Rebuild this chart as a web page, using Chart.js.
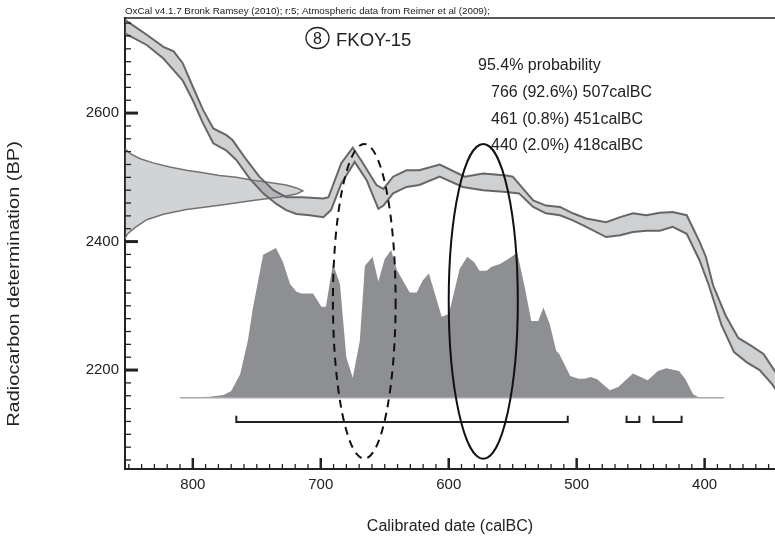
<!DOCTYPE html>
<html>
<head>
<meta charset="utf-8">
<script src="https://cdn.jsdelivr.net/npm/chart.js@4.4.0/dist/chart.umd.min.js"></script>
<style>
  html, body { margin: 0; padding: 0; background: #fff; }
  #wrap { width: 775px; height: 539px; }
</style>
</head>
<body>
<div id="wrap"><canvas id="chart" width="775" height="539"></canvas></div>
<script>
var X_TICKS = [800, 700, 600, 500, 400];
var Y_TICKS = [2600, 2400, 2200];

// calibration curve band (calBC / BP), upper and lower edge
var curveUpperYear = [853, 836, 823, 815, 808, 800, 792, 784, 774, 769, 758, 748, 737, 727, 714, 698, 694, 684, 675, 667, 656.5, 651, 643.5, 633, 623, 607, 587.5, 573, 555, 550, 534, 524, 513, 503, 492.5, 477, 466, 456, 445.5, 435, 425, 414, 404, 399, 393.4, 383.6, 373.7, 363.8, 354, 344];
var curveUpperBP = [2745, 2722, 2703, 2696, 2678, 2641, 2605, 2576, 2566, 2558, 2527, 2501, 2480, 2469, 2469, 2467, 2469, 2522, 2546, 2522, 2488, 2482, 2501, 2511, 2511, 2520, 2501, 2506, 2503, 2501, 2464, 2456, 2454, 2444, 2436, 2430, 2438, 2444, 2441, 2445, 2446, 2441, 2400, 2376, 2332, 2285, 2250, 2238, 2225, 2195];
var curveLowerYear = [853, 836, 823, 815, 808, 800, 792, 784, 774, 766, 755.5, 745, 735, 727, 719, 708.6, 698, 692, 684, 673.5, 664, 655, 651, 643.5, 633, 623, 607, 589, 573, 555, 545, 534, 524, 513, 503, 492.5, 477, 466, 456, 445.5, 435, 425, 414, 404, 396.7, 386.8, 377, 367, 357, 347.3, 341];
var curveLowerBP = [2724, 2706, 2685, 2667, 2651, 2620, 2584, 2553, 2542, 2527, 2498, 2475, 2459, 2449, 2443, 2441, 2438, 2449, 2490, 2524, 2495, 2451, 2456, 2475, 2485, 2488, 2501, 2485, 2480, 2477, 2475, 2454, 2444, 2441, 2433, 2423, 2407, 2410, 2415, 2417, 2417, 2423, 2412, 2371, 2332, 2270, 2228, 2212, 2200, 2178, 2160];

// radiocarbon measurement: BP and relative density
var measBP = [2545, 2537, 2529, 2522.5, 2516, 2511, 2507, 2503, 2500, 2495.5, 2492, 2488, 2483.5, 2479, 2474, 2469.5, 2464, 2456.5, 2450, 2442.5, 2434, 2422, 2412, 2404.5];
var measDensity = [0, 0.029, 0.086, 0.158, 0.252, 0.345, 0.439, 0.532, 0.626, 0.719, 0.813, 0.906, 0.964, 1.0, 0.964, 0.871, 0.719, 0.532, 0.345, 0.216, 0.122, 0.058, 0.014, 0];

// calibrated date: calBC and relative probability
var calYear = [810, 787, 776, 770, 763, 757, 753, 749, 745, 735, 729.5, 724, 719, 715, 706, 699.5, 696, 690.5, 685, 680, 675, 669.5, 665.5, 659.5, 655, 650, 645, 640.5, 630.5, 625, 620.5, 615.5, 605.5, 600.5, 598, 591.5, 585.5, 580, 576, 570.5, 566.5, 560, 553.5, 546.5, 540.5, 535.5, 530, 526, 521, 516, 513.5, 505, 498.5, 494, 489, 484, 474, 467.5, 456, 444.5, 436.5, 430, 420, 415, 409, 404, 385];
var calProb = [0, 0.007, 0.018, 0.045, 0.157, 0.38, 0.6, 0.78, 0.955, 1.0, 0.904, 0.759, 0.707, 0.696, 0.696, 0.607, 0.607, 0.893, 0.759, 0.268, 0.134, 0.38, 0.882, 0.942, 0.777, 0.926, 0.987, 0.853, 0.703, 0.703, 0.781, 0.83, 0.54, 0.558, 0.625, 0.859, 0.942, 0.904, 0.848, 0.848, 0.875, 0.893, 0.926, 0.969, 0.736, 0.513, 0.513, 0.602, 0.491, 0.313, 0.29, 0.145, 0.127, 0.127, 0.139, 0.123, 0.05, 0.072, 0.161, 0.117, 0.179, 0.197, 0.179, 0.123, 0.023, 0, 0];

// 95.4% ranges
var rangeFrom = [766, 461, 440];
var rangeTo = [507, 451, 418];
var rangePct = [92.6, 0.8, 2.0];

var sampleNo = '8';
var sampleName = 'FKOY-15';
var headerText = 'OxCal v4.1.7 Bronk Ramsey (2010); r:5; Atmospheric data from Reimer et al (2009);';
var yTitle = 'Radiocarbon determination (BP)';

// layout / drawing constants
var X_MIN = 345, X_MAX = 853, Y_MIN = 2046, Y_MAX = 2748;
var DIST_BASE = 2157, DIST_HEIGHT = 233;   // calibrated curve baseline and peak height (BP units)
var MEAS_WIDTH = 139;                      // measurement peak width (years)
var BRACKET_BP = 2119, BRACKET_H = 10;
var FONT = "'Liberation Sans', Arial, sans-serif";
var INK = '#222';

var ellipses = [
  { year: 666, bp: 2307, rYear: 24.5, rBP: 245, dash: [8, 6] },
  { year: 573, bp: 2307, rYear: 27, rBP: 245, dash: [] }
];

function pts(xs, ys) {
  return xs.map(function (x, i) { return { x: x, y: ys[i] }; });
}

// band polygon: upper edge then lower edge reversed
var bandPoly = pts(curveUpperYear, curveUpperBP).concat(pts(curveLowerYear, curveLowerBP).reverse());

var measPoly = measBP.map(function (bp, i) {
  return { x: X_MAX - measDensity[i] * MEAS_WIDTH, y: bp };
});

var calPoly = calYear.map(function (yr, i) {
  return { x: yr, y: DIST_BASE + calProb[i] * DIST_HEIGHT };
});

var baseLine = [
  { x: calYear[0], y: DIST_BASE },
  { x: calYear[calYear.length - 1], y: DIST_BASE }
];

function lineSet(data, color, width, order) {
  return {
    data: data, borderColor: color, borderWidth: width, fill: false,
    pointRadius: 0, tension: 0, order: order
  };
}

var datasets = [
  { data: calPoly, fill: 'shape', backgroundColor: '#8e8f93', borderWidth: 0, pointRadius: 0, order: 9 },
  lineSet(baseLine, '#a8a8aa', 1.5, 8),
  { data: measPoly, fill: 'shape', backgroundColor: 'rgba(118,120,126,0.33)', borderColor: '#737373', borderWidth: 1.5, pointRadius: 0, order: 7 },
  { data: bandPoly, fill: 'shape', backgroundColor: 'rgba(118,120,126,0.35)', borderWidth: 0, pointRadius: 0, order: 6 },
  lineSet(pts(curveUpperYear, curveUpperBP), '#666', 2, 5),
  lineSet(pts(curveLowerYear, curveLowerBP), '#666', 2, 5)
];

rangeFrom.forEach(function (from, i) {
  var to = rangeTo[i];
  datasets.push(lineSet([
    { x: from, y: BRACKET_BP + BRACKET_H },
    { x: from, y: BRACKET_BP },
    { x: to, y: BRACKET_BP },
    { x: to, y: BRACKET_BP + BRACKET_H }
  ], INK, 2, 2));
});

// inward tick marks, frame line, ellipses and texts
var decorations = {
  id: 'decorations',
  afterDatasetsDraw: function (chart) {
    var ctx = chart.ctx, xs = chart.scales.x, ys = chart.scales.y;
    ctx.save();
    ctx.strokeStyle = '#111';
    ctx.lineWidth = 2;
    ellipses.forEach(function (e) {
      var cx = xs.getPixelForValue(e.year), cy = ys.getPixelForValue(e.bp);
      var rx = Math.abs(xs.getPixelForValue(e.year - e.rYear) - cx);
      var ry = Math.abs(ys.getPixelForValue(e.bp + e.rBP) - cy);
      ctx.setLineDash(e.dash);
      ctx.beginPath();
      ctx.ellipse(cx, cy, rx, ry, 0, 0, Math.PI * 2);
      ctx.stroke();
    });
    ctx.restore();
  },
  afterDraw: function (chart) {
    var ctx = chart.ctx, a = chart.chartArea, xs = chart.scales.x, ys = chart.scales.y;
    var v, p, major;
    ctx.save();
    ctx.strokeStyle = INK;
    for (v = 350; v <= 850; v += 10) {
      p = xs.getPixelForValue(v);
      major = v % 100 === 0;
      ctx.lineWidth = major ? 2.5 : 1.3;
      ctx.beginPath();
      ctx.moveTo(p, a.bottom);
      ctx.lineTo(p, a.bottom - (major ? 11 : 5));
      ctx.stroke();
    }
    for (v = 2060; v <= 2740; v += 20) {
      p = ys.getPixelForValue(v);
      major = v % 200 === 0;
      ctx.lineWidth = major ? 3 : 1.3;
      ctx.beginPath();
      ctx.moveTo(a.left, p);
      ctx.lineTo(a.left + (major ? 13 : 6), p);
      ctx.stroke();
    }
    // top frame
    ctx.lineWidth = 1.5;
    ctx.beginPath();
    ctx.moveTo(a.left - 1, a.top);
    ctx.lineTo(a.right, a.top);
    ctx.stroke();

    ctx.fillStyle = INK;
    ctx.textBaseline = 'alphabetic';
    ctx.font = '9.8px ' + FONT;
    ctx.fillText(headerText, a.left, 14);

    // circled sample number and name
    ctx.lineWidth = 1.3;
    ctx.beginPath();
    ctx.ellipse(317.5, 38, 11.5, 10.5, 0, 0, Math.PI * 2);
    ctx.stroke();
    ctx.font = '16px ' + FONT;
    ctx.textAlign = 'center';
    ctx.fillText(sampleNo, 317.5, 44);
    ctx.textAlign = 'left';
    ctx.font = '18.5px ' + FONT;
    ctx.fillText(sampleName, 336, 46);

    ctx.font = '16px ' + FONT;
    ctx.fillText('95.4% probability', 478, 70);
    rangeFrom.forEach(function (from, i) {
      ctx.fillText(from + ' (' + rangePct[i].toFixed(1) + '%) ' + rangeTo[i] + 'calBC', 491, 97 + i * 26.7);
    });

    // y axis title, stretched along its length as in the original
    ctx.save();
    ctx.translate(15, 284);
    ctx.rotate(-Math.PI / 2);
    ctx.scale(1.25, 1);
    ctx.textAlign = 'center';
    ctx.textBaseline = 'middle';
    ctx.font = '16px ' + FONT;
    ctx.fillText(yTitle, 0, 0);
    ctx.restore();
    ctx.restore();
  }
};

new Chart(document.getElementById('chart').getContext('2d'), {
  type: 'line',
  data: { datasets: datasets },
  options: {
    responsive: false,
    animation: false,
    events: [],
    layout: { padding: { top: 18, right: 0, bottom: 0, left: 0 } },
    plugins: { legend: { display: false }, tooltip: { enabled: false } },
    scales: {
      x: {
        type: 'linear', reverse: true, min: X_MIN, max: X_MAX,
        afterBuildTicks: function (s) { s.ticks = X_TICKS.map(function (v) { return { value: v }; }); },
        afterFit: function (s) { s.height = 70; },
        grid: { display: false, drawTicks: false },
        border: { display: true, color: INK, width: 2 },
        ticks: {
          color: INK, padding: 7, maxRotation: 0, autoSkip: false,
          font: { family: FONT, size: 15 },
          callback: function (v) { return String(v); }
        },
        title: {
          display: true, text: 'Calibrated date (calBC)', color: INK,
          font: { family: FONT, size: 16 }, padding: { top: 0, bottom: 2.5 }
        }
      },
      y: {
        type: 'linear', min: Y_MIN, max: Y_MAX,
        afterBuildTicks: function (s) { s.ticks = Y_TICKS.map(function (v) { return { value: v }; }); },
        afterFit: function (s) { s.width = 125; },
        grid: { display: false, drawTicks: false },
        border: { display: true, color: INK, width: 2 },
        ticks: {
          color: INK, padding: 6, autoSkip: false,
          font: { family: FONT, size: 15 },
          callback: function (v) { return String(v); }
        },
        title: { display: false }
      }
    }
  },
  plugins: [decorations]
});
</script>
</body>
</html>
